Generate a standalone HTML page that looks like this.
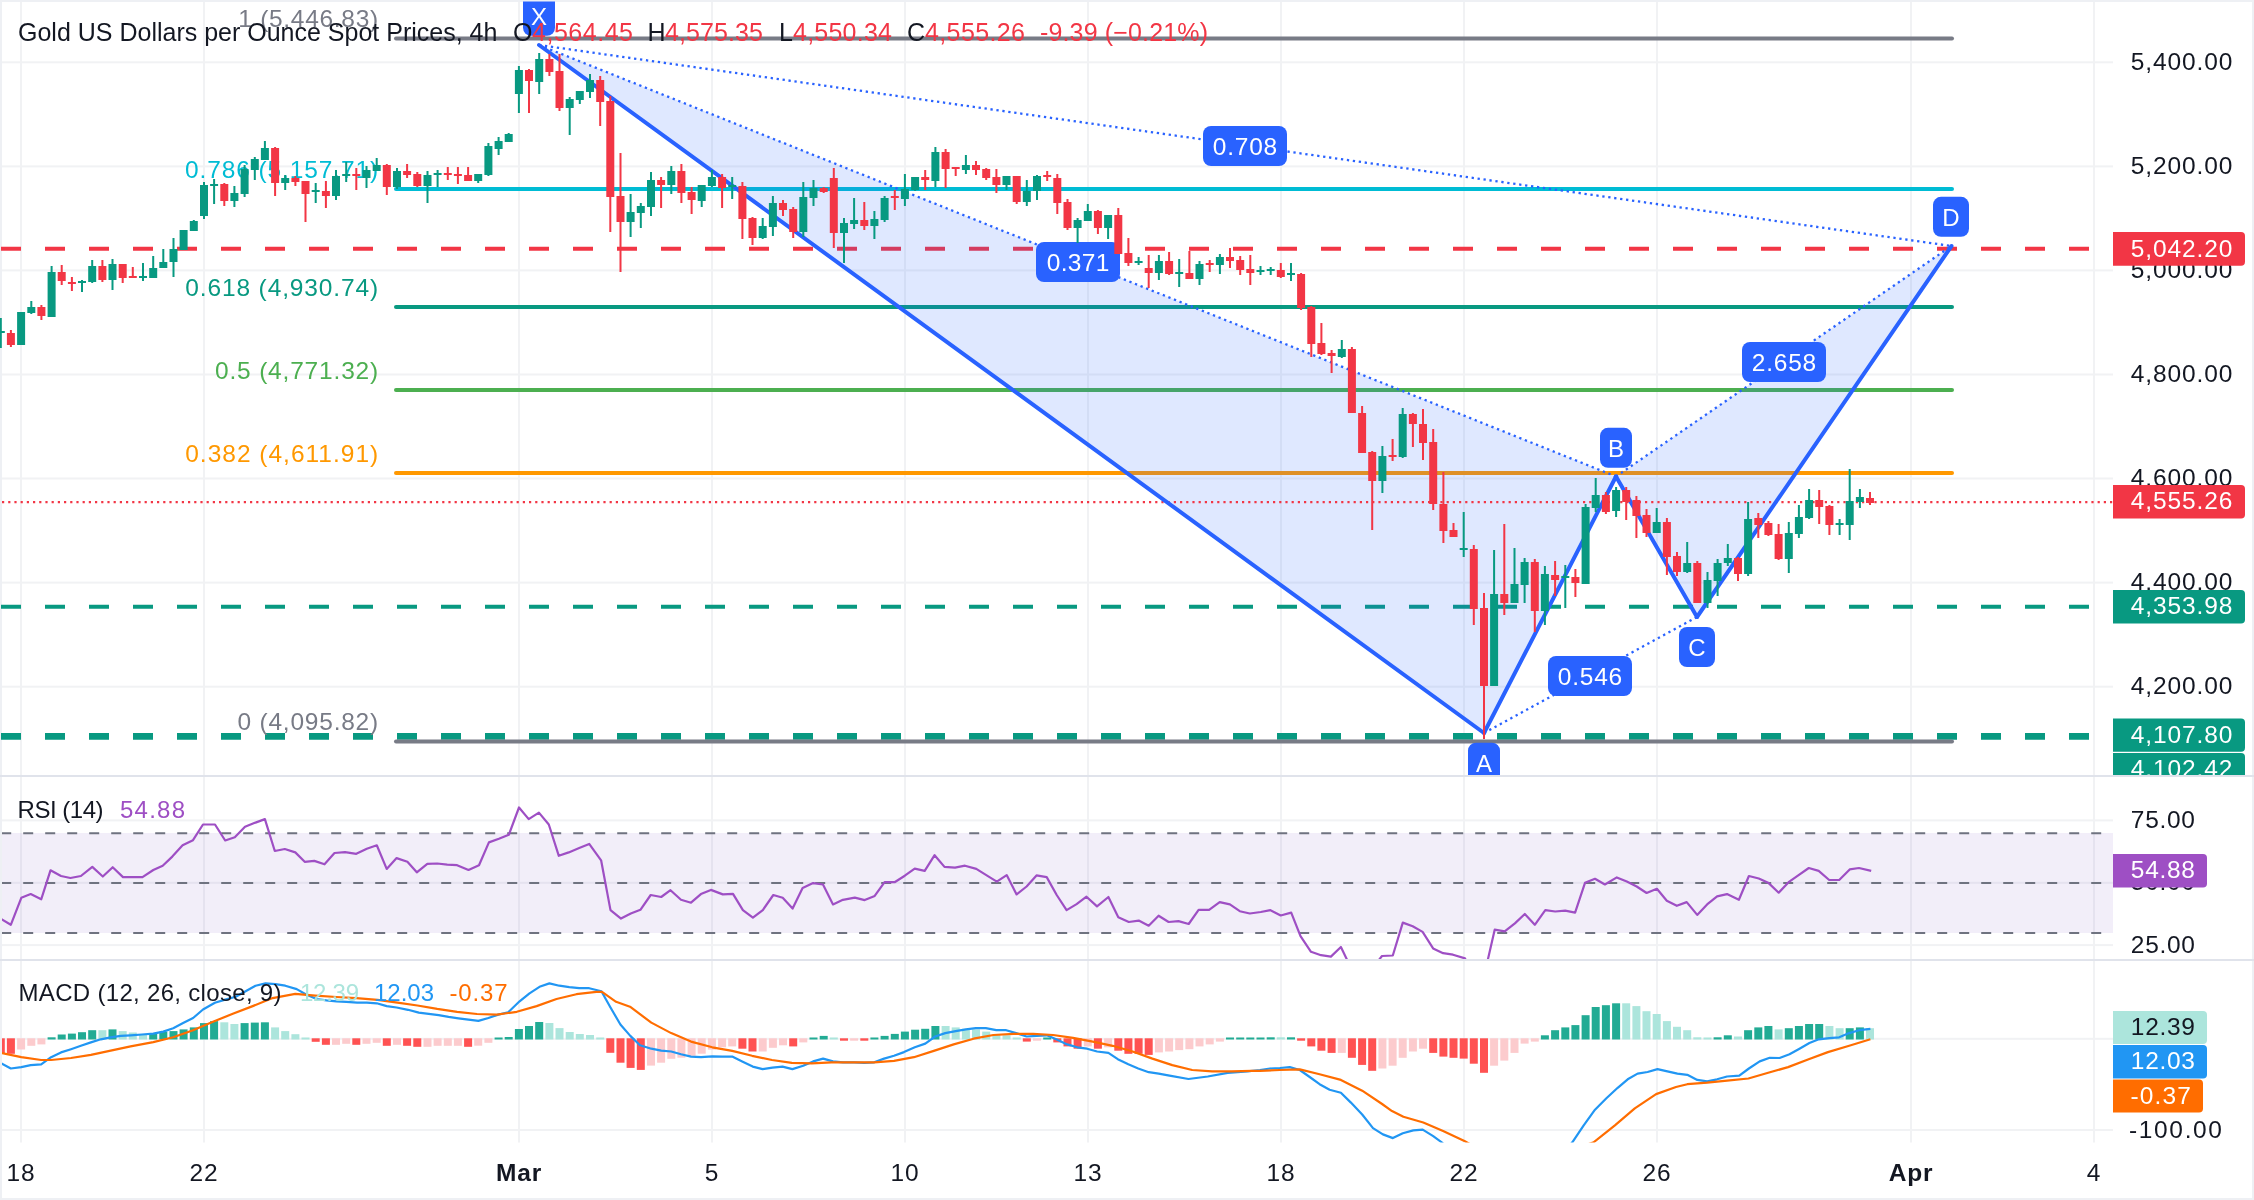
<!DOCTYPE html><html><head><meta charset="utf-8"><style>html,body{margin:0;padding:0;background:#fff;}svg{display:block;will-change:transform;}text{font-family:"Liberation Sans", sans-serif;}</style></head><body>
<svg width="2254" height="1200" viewBox="0 0 2254 1200">
<defs>
<clipPath id="cMain"><rect x="0" y="1.5" width="2113" height="774.5"/></clipPath>
<clipPath id="cRsi"><rect x="2" y="777" width="2111" height="182"/></clipPath>
<clipPath id="cMacd"><rect x="2" y="961" width="2111" height="181.5"/></clipPath>
</defs>
<rect x="0" y="0" width="2254" height="1200" fill="#fff"/>
<rect x="1" y="1" width="2252" height="1198" fill="none" stroke="#eef0f4" stroke-width="2"/>
<rect x="2" y="61.3" width="2111" height="2" fill="#f1f2f4"/>
<rect x="2" y="165.4" width="2111" height="2" fill="#f1f2f4"/>
<rect x="2" y="269.4" width="2111" height="2" fill="#f1f2f4"/>
<rect x="2" y="373.5" width="2111" height="2" fill="#f1f2f4"/>
<rect x="2" y="477.5" width="2111" height="2" fill="#f1f2f4"/>
<rect x="2" y="581.6" width="2111" height="2" fill="#f1f2f4"/>
<rect x="2" y="685.7" width="2111" height="2" fill="#f1f2f4"/>
<rect x="2" y="819.4" width="2111" height="2" fill="#f1f2f4"/>
<rect x="2" y="881.8" width="2111" height="2" fill="#f1f2f4"/>
<rect x="2" y="944.1" width="2111" height="2" fill="#f1f2f4"/>
<rect x="2" y="1037.8" width="2111" height="2" fill="#f1f2f4"/>
<rect x="2" y="1129.0" width="2111" height="2" fill="#f1f2f4"/>
<rect x="20" y="2" width="2" height="1140.5" fill="#f1f2f4"/>
<rect x="203" y="2" width="2" height="1140.5" fill="#f1f2f4"/>
<rect x="518" y="2" width="2" height="1140.5" fill="#f1f2f4"/>
<rect x="711" y="2" width="2" height="1140.5" fill="#f1f2f4"/>
<rect x="904" y="2" width="2" height="1140.5" fill="#f1f2f4"/>
<rect x="1087" y="2" width="2" height="1140.5" fill="#f1f2f4"/>
<rect x="1280" y="2" width="2" height="1140.5" fill="#f1f2f4"/>
<rect x="1463" y="2" width="2" height="1140.5" fill="#f1f2f4"/>
<rect x="1656" y="2" width="2" height="1140.5" fill="#f1f2f4"/>
<rect x="1910" y="2" width="2" height="1140.5" fill="#f1f2f4"/>
<rect x="2093" y="2" width="2" height="1140.5" fill="#f1f2f4"/>
<g clip-path="url(#cMain)">
<line x1="1" y1="248.8" x2="2113" y2="248.8" stroke="#f23645" stroke-width="4" stroke-dasharray="20 24"/>
<line x1="1" y1="606.8" x2="2113" y2="606.8" stroke="#089981" stroke-width="4" stroke-dasharray="20 24"/>
<line x1="1" y1="734.9" x2="2113" y2="734.9" stroke="#089981" stroke-width="4" stroke-dasharray="20 24"/>
<line x1="1" y1="737.7" x2="2113" y2="737.7" stroke="#089981" stroke-width="4" stroke-dasharray="20 24"/>
<line x1="396" y1="38.5" x2="1952" y2="38.5" stroke="#787b86" stroke-width="4" stroke-linecap="round"/>
<text x="238.3" y="27.1" font-size="24.5" fill="#787b86" textLength="139.9" lengthAdjust="spacing">1 (5,446.83)</text>
<line x1="396" y1="189.0" x2="1952" y2="189.0" stroke="#00bcd4" stroke-width="4" stroke-linecap="round"/>
<text x="185" y="177.6" font-size="24.5" fill="#00bcd4" textLength="193.2" lengthAdjust="spacing">0.786 (5,157.71)</text>
<line x1="396" y1="307.1" x2="1952" y2="307.1" stroke="#089981" stroke-width="4" stroke-linecap="round"/>
<text x="185.2" y="295.7" font-size="24.5" fill="#089981" textLength="193.0" lengthAdjust="spacing">0.618 (4,930.74)</text>
<line x1="396" y1="390.0" x2="1952" y2="390.0" stroke="#4caf50" stroke-width="4" stroke-linecap="round"/>
<text x="215" y="378.6" font-size="24.5" fill="#4caf50" textLength="163.2" lengthAdjust="spacing">0.5 (4,771.32)</text>
<line x1="396" y1="472.9" x2="1952" y2="472.9" stroke="#ff9800" stroke-width="4" stroke-linecap="round"/>
<text x="185.2" y="461.5" font-size="24.5" fill="#ff9800" textLength="193.0" lengthAdjust="spacing">0.382 (4,611.91)</text>
<line x1="396" y1="741.5" x2="1952" y2="741.5" stroke="#787b86" stroke-width="4" stroke-linecap="round"/>
<text x="237.5" y="730.1" font-size="24.5" fill="#787b86" textLength="140.7" lengthAdjust="spacing">0 (4,095.82)</text>
<polygon points="539,45 1484,733 1616,476.5" fill="#2962ff" fill-opacity="0.15"/>
<polygon points="1616,476.5 1697,617 1951.5,246" fill="#2962ff" fill-opacity="0.15"/>
<line x1="2" y1="502.1" x2="2113" y2="502.1" stroke="#f23645" stroke-width="2.2" stroke-dasharray="2.2 4"/>
<line x1="539" y1="45" x2="1484" y2="733" stroke="#2962ff" stroke-width="4" stroke-linecap="round"/>
<line x1="1484" y1="733" x2="1616" y2="476.5" stroke="#2962ff" stroke-width="4" stroke-linecap="round"/>
<line x1="1616" y1="476.5" x2="1697" y2="617" stroke="#2962ff" stroke-width="4" stroke-linecap="round"/>
<line x1="1697" y1="617" x2="1951.5" y2="246" stroke="#2962ff" stroke-width="4" stroke-linecap="round"/>
<line x1="539" y1="45" x2="1616" y2="476.5" stroke="#2962ff" stroke-width="2.3" stroke-dasharray="2.3 3.7"/>
<line x1="539" y1="45" x2="1951.5" y2="246" stroke="#2962ff" stroke-width="2.3" stroke-dasharray="2.3 3.7"/>
<line x1="1484" y1="733" x2="1697" y2="617" stroke="#2962ff" stroke-width="2.3" stroke-dasharray="2.3 3.7"/>
<line x1="1616" y1="476.5" x2="1951.5" y2="246" stroke="#2962ff" stroke-width="2.3" stroke-dasharray="2.3 3.7"/>
<rect x="523.0" y="-10.0" width="32" height="45.8" rx="8" fill="#2962ff"/>
<text x="539.0" y="24.8" font-size="24" fill="#fff" text-anchor="middle">X</text>
<rect x="1600.0" y="427.8" width="32" height="40" rx="8" fill="#2962ff"/>
<text x="1616.0" y="456.6" font-size="24" fill="#fff" text-anchor="middle">B</text>
<rect x="1679.0" y="627.0" width="36" height="40" rx="8" fill="#2962ff"/>
<text x="1697.0" y="655.8" font-size="24" fill="#fff" text-anchor="middle">C</text>
<rect x="1933.0" y="196.8" width="36" height="40" rx="8" fill="#2962ff"/>
<text x="1951.0" y="225.6" font-size="24" fill="#fff" text-anchor="middle">D</text>
<rect x="1468.0" y="742.7" width="32" height="40" rx="8" fill="#2962ff"/>
<text x="1484.0" y="771.5" font-size="24" fill="#fff" text-anchor="middle">A</text>
<rect x="1203.0" y="126.0" width="84" height="40" rx="8" fill="#2962ff"/>
<text x="1212.8" y="154.8" font-size="24.5" fill="#fff" textLength="64.4" lengthAdjust="spacing">0.708</text>
<rect x="1036.0" y="242.0" width="84" height="40" rx="8" fill="#2962ff"/>
<text x="1046.7" y="270.8" font-size="24.5" fill="#fff" textLength="62.6" lengthAdjust="spacing">0.371</text>
<rect x="1742.0" y="342.0" width="84" height="40" rx="8" fill="#2962ff"/>
<text x="1751.8" y="370.8" font-size="24.5" fill="#fff" textLength="64.4" lengthAdjust="spacing">2.658</text>
<rect x="1548.0" y="656.0" width="84" height="40" rx="8" fill="#2962ff"/>
<text x="1557.8" y="684.8" font-size="24.5" fill="#fff" textLength="64.4" lengthAdjust="spacing">0.546</text>
<rect x="-0.2" y="318.0" width="2" height="30.0" fill="#089981"/>
<rect x="-3.2" y="331.0" width="8" height="2.0" fill="#089981"/>
<rect x="9.9" y="330.0" width="2" height="17.0" fill="#f23645"/>
<rect x="6.9" y="333.0" width="8" height="12.0" fill="#f23645"/>
<rect x="20.1" y="312.0" width="2" height="33.0" fill="#089981"/>
<rect x="17.1" y="312.0" width="8" height="33.0" fill="#089981"/>
<rect x="30.3" y="301.0" width="2" height="13.0" fill="#089981"/>
<rect x="27.3" y="307.0" width="8" height="6.0" fill="#089981"/>
<rect x="40.4" y="305.0" width="2" height="15.0" fill="#f23645"/>
<rect x="37.4" y="307.0" width="8" height="9.0" fill="#f23645"/>
<rect x="50.6" y="266.0" width="2" height="51.0" fill="#089981"/>
<rect x="47.6" y="272.0" width="8" height="45.0" fill="#089981"/>
<rect x="60.7" y="265.0" width="2" height="20.0" fill="#f23645"/>
<rect x="57.7" y="272.0" width="8" height="9.0" fill="#f23645"/>
<rect x="70.9" y="277.0" width="2" height="14.0" fill="#f23645"/>
<rect x="67.9" y="282.0" width="8" height="2.0" fill="#f23645"/>
<rect x="81.0" y="280.0" width="2" height="12.0" fill="#089981"/>
<rect x="78.0" y="281.0" width="8" height="2.0" fill="#089981"/>
<rect x="91.2" y="260.0" width="2" height="23.0" fill="#089981"/>
<rect x="88.2" y="266.0" width="8" height="16.0" fill="#089981"/>
<rect x="101.4" y="260.0" width="2" height="22.0" fill="#f23645"/>
<rect x="98.4" y="266.0" width="8" height="14.0" fill="#f23645"/>
<rect x="111.5" y="259.0" width="2" height="31.0" fill="#089981"/>
<rect x="108.5" y="264.0" width="8" height="16.0" fill="#089981"/>
<rect x="121.7" y="264.0" width="2" height="19.0" fill="#f23645"/>
<rect x="118.7" y="264.0" width="8" height="14.0" fill="#f23645"/>
<rect x="131.8" y="267.0" width="2" height="11.0" fill="#f23645"/>
<rect x="128.8" y="276.0" width="8" height="2.0" fill="#f23645"/>
<rect x="142.0" y="263.0" width="2" height="18.0" fill="#089981"/>
<rect x="139.0" y="276.0" width="8" height="2.0" fill="#089981"/>
<rect x="152.2" y="256.0" width="2" height="22.0" fill="#089981"/>
<rect x="149.2" y="268.0" width="8" height="10.0" fill="#089981"/>
<rect x="162.3" y="249.0" width="2" height="19.0" fill="#089981"/>
<rect x="159.3" y="262.0" width="8" height="6.0" fill="#089981"/>
<rect x="172.5" y="238.0" width="2" height="39.0" fill="#089981"/>
<rect x="169.5" y="249.0" width="8" height="13.0" fill="#089981"/>
<rect x="182.6" y="230.0" width="2" height="20.0" fill="#089981"/>
<rect x="179.6" y="230.0" width="8" height="20.0" fill="#089981"/>
<rect x="192.8" y="220.0" width="2" height="11.0" fill="#089981"/>
<rect x="189.8" y="221.0" width="8" height="10.0" fill="#089981"/>
<rect x="203.0" y="182.0" width="2" height="37.0" fill="#089981"/>
<rect x="200.0" y="185.0" width="8" height="31.0" fill="#089981"/>
<rect x="213.1" y="179.0" width="2" height="25.0" fill="#089981"/>
<rect x="210.1" y="184.0" width="8" height="2.0" fill="#089981"/>
<rect x="223.3" y="183.0" width="2" height="23.0" fill="#f23645"/>
<rect x="220.3" y="184.0" width="8" height="17.0" fill="#f23645"/>
<rect x="233.4" y="186.0" width="2" height="21.0" fill="#089981"/>
<rect x="230.4" y="193.0" width="8" height="8.0" fill="#089981"/>
<rect x="243.6" y="165.0" width="2" height="32.0" fill="#089981"/>
<rect x="240.6" y="169.0" width="8" height="25.0" fill="#089981"/>
<rect x="253.8" y="157.0" width="2" height="23.0" fill="#089981"/>
<rect x="250.8" y="159.0" width="8" height="11.0" fill="#089981"/>
<rect x="263.9" y="141.0" width="2" height="19.0" fill="#089981"/>
<rect x="260.9" y="148.0" width="8" height="12.0" fill="#089981"/>
<rect x="274.1" y="147.0" width="2" height="49.0" fill="#f23645"/>
<rect x="271.1" y="148.0" width="8" height="35.0" fill="#f23645"/>
<rect x="284.2" y="175.0" width="2" height="15.0" fill="#089981"/>
<rect x="281.2" y="178.0" width="8" height="5.0" fill="#089981"/>
<rect x="294.4" y="176.0" width="2" height="10.0" fill="#f23645"/>
<rect x="291.4" y="178.0" width="8" height="4.0" fill="#f23645"/>
<rect x="304.5" y="181.0" width="2" height="41.0" fill="#f23645"/>
<rect x="301.5" y="181.0" width="8" height="13.0" fill="#f23645"/>
<rect x="314.7" y="183.0" width="2" height="20.0" fill="#089981"/>
<rect x="311.7" y="190.0" width="8" height="2.0" fill="#089981"/>
<rect x="324.9" y="181.0" width="2" height="27.0" fill="#f23645"/>
<rect x="321.9" y="191.0" width="8" height="5.0" fill="#f23645"/>
<rect x="335.0" y="170.0" width="2" height="30.0" fill="#089981"/>
<rect x="332.0" y="176.0" width="8" height="20.0" fill="#089981"/>
<rect x="345.2" y="162.0" width="2" height="20.0" fill="#089981"/>
<rect x="342.2" y="174.0" width="8" height="2.0" fill="#089981"/>
<rect x="355.3" y="168.0" width="2" height="22.0" fill="#f23645"/>
<rect x="352.3" y="174.0" width="8" height="2.0" fill="#f23645"/>
<rect x="365.5" y="166.0" width="2" height="22.0" fill="#089981"/>
<rect x="362.5" y="170.0" width="8" height="8.0" fill="#089981"/>
<rect x="375.7" y="158.0" width="2" height="13.0" fill="#089981"/>
<rect x="372.7" y="165.0" width="8" height="6.0" fill="#089981"/>
<rect x="385.8" y="164.0" width="2" height="31.0" fill="#f23645"/>
<rect x="382.8" y="165.0" width="8" height="22.0" fill="#f23645"/>
<rect x="396.0" y="168.0" width="2" height="21.0" fill="#089981"/>
<rect x="393.0" y="171.0" width="8" height="16.0" fill="#089981"/>
<rect x="406.1" y="164.0" width="2" height="14.0" fill="#f23645"/>
<rect x="403.1" y="171.0" width="8" height="4.0" fill="#f23645"/>
<rect x="416.3" y="172.0" width="2" height="15.0" fill="#f23645"/>
<rect x="413.3" y="174.0" width="8" height="12.0" fill="#f23645"/>
<rect x="426.5" y="171.0" width="2" height="32.0" fill="#089981"/>
<rect x="423.5" y="175.0" width="8" height="11.0" fill="#089981"/>
<rect x="436.6" y="170.0" width="2" height="17.0" fill="#089981"/>
<rect x="433.6" y="173.0" width="8" height="2.0" fill="#089981"/>
<rect x="446.8" y="167.0" width="2" height="13.0" fill="#f23645"/>
<rect x="443.8" y="173.0" width="8" height="2.0" fill="#f23645"/>
<rect x="456.9" y="167.0" width="2" height="17.0" fill="#f23645"/>
<rect x="453.9" y="174.0" width="8" height="2.0" fill="#f23645"/>
<rect x="467.1" y="167.0" width="2" height="14.0" fill="#f23645"/>
<rect x="464.1" y="175.0" width="8" height="6.0" fill="#f23645"/>
<rect x="477.2" y="174.0" width="2" height="9.0" fill="#089981"/>
<rect x="474.2" y="174.0" width="8" height="7.0" fill="#089981"/>
<rect x="487.4" y="143.0" width="2" height="33.0" fill="#089981"/>
<rect x="484.4" y="146.0" width="8" height="29.0" fill="#089981"/>
<rect x="497.6" y="137.0" width="2" height="18.0" fill="#089981"/>
<rect x="494.6" y="141.0" width="8" height="8.0" fill="#089981"/>
<rect x="507.7" y="133.0" width="2" height="9.0" fill="#089981"/>
<rect x="504.7" y="134.0" width="8" height="8.0" fill="#089981"/>
<rect x="517.9" y="66.0" width="2" height="47.0" fill="#089981"/>
<rect x="514.9" y="70.0" width="8" height="24.0" fill="#089981"/>
<rect x="528.0" y="69.0" width="2" height="44.0" fill="#f23645"/>
<rect x="525.0" y="70.0" width="8" height="11.0" fill="#f23645"/>
<rect x="538.2" y="53.0" width="2" height="41.0" fill="#089981"/>
<rect x="535.2" y="59.0" width="8" height="23.0" fill="#089981"/>
<rect x="548.4" y="54.0" width="2" height="22.0" fill="#f23645"/>
<rect x="545.4" y="59.0" width="8" height="13.0" fill="#f23645"/>
<rect x="558.5" y="54.0" width="2" height="57.0" fill="#f23645"/>
<rect x="555.5" y="71.0" width="8" height="37.0" fill="#f23645"/>
<rect x="568.7" y="97.0" width="2" height="38.0" fill="#089981"/>
<rect x="565.7" y="99.0" width="8" height="9.0" fill="#089981"/>
<rect x="578.8" y="91.0" width="2" height="13.0" fill="#089981"/>
<rect x="575.8" y="91.0" width="8" height="9.0" fill="#089981"/>
<rect x="589.0" y="74.0" width="2" height="24.0" fill="#089981"/>
<rect x="586.0" y="80.0" width="8" height="12.0" fill="#089981"/>
<rect x="599.2" y="76.0" width="2" height="50.0" fill="#f23645"/>
<rect x="596.2" y="80.0" width="8" height="22.0" fill="#f23645"/>
<rect x="609.3" y="96.0" width="2" height="136.0" fill="#f23645"/>
<rect x="606.3" y="101.0" width="8" height="96.0" fill="#f23645"/>
<rect x="619.5" y="153.0" width="2" height="119.0" fill="#f23645"/>
<rect x="616.5" y="196.0" width="8" height="26.0" fill="#f23645"/>
<rect x="629.6" y="194.0" width="2" height="43.0" fill="#089981"/>
<rect x="626.6" y="212.0" width="8" height="10.0" fill="#089981"/>
<rect x="639.8" y="203.0" width="2" height="25.0" fill="#089981"/>
<rect x="636.8" y="206.0" width="8" height="7.0" fill="#089981"/>
<rect x="650.0" y="172.0" width="2" height="44.0" fill="#089981"/>
<rect x="647.0" y="180.0" width="8" height="27.0" fill="#089981"/>
<rect x="660.1" y="177.0" width="2" height="31.0" fill="#f23645"/>
<rect x="657.1" y="180.0" width="8" height="5.0" fill="#f23645"/>
<rect x="670.3" y="166.0" width="2" height="28.0" fill="#089981"/>
<rect x="667.3" y="171.0" width="8" height="14.0" fill="#089981"/>
<rect x="680.4" y="164.0" width="2" height="39.0" fill="#f23645"/>
<rect x="677.4" y="171.0" width="8" height="22.0" fill="#f23645"/>
<rect x="690.6" y="187.0" width="2" height="27.0" fill="#f23645"/>
<rect x="687.6" y="192.0" width="8" height="8.0" fill="#f23645"/>
<rect x="700.7" y="185.0" width="2" height="22.0" fill="#089981"/>
<rect x="697.7" y="185.0" width="8" height="16.0" fill="#089981"/>
<rect x="710.9" y="170.0" width="2" height="17.0" fill="#089981"/>
<rect x="707.9" y="177.0" width="8" height="9.0" fill="#089981"/>
<rect x="721.1" y="174.0" width="2" height="34.0" fill="#f23645"/>
<rect x="718.1" y="177.0" width="8" height="11.0" fill="#f23645"/>
<rect x="731.2" y="177.0" width="2" height="22.0" fill="#089981"/>
<rect x="728.2" y="185.0" width="8" height="2.0" fill="#089981"/>
<rect x="741.4" y="182.0" width="2" height="57.0" fill="#f23645"/>
<rect x="738.4" y="186.0" width="8" height="33.0" fill="#f23645"/>
<rect x="751.5" y="217.0" width="2" height="28.0" fill="#f23645"/>
<rect x="748.5" y="218.0" width="8" height="20.0" fill="#f23645"/>
<rect x="761.7" y="218.0" width="2" height="21.0" fill="#089981"/>
<rect x="758.7" y="226.0" width="8" height="12.0" fill="#089981"/>
<rect x="771.9" y="196.0" width="2" height="40.0" fill="#089981"/>
<rect x="768.9" y="203.0" width="8" height="24.0" fill="#089981"/>
<rect x="782.0" y="200.0" width="2" height="16.0" fill="#f23645"/>
<rect x="779.0" y="203.0" width="8" height="7.0" fill="#f23645"/>
<rect x="792.2" y="207.0" width="2" height="31.0" fill="#f23645"/>
<rect x="789.2" y="209.0" width="8" height="23.0" fill="#f23645"/>
<rect x="802.3" y="182.0" width="2" height="55.0" fill="#089981"/>
<rect x="799.3" y="197.0" width="8" height="35.0" fill="#089981"/>
<rect x="812.5" y="180.0" width="2" height="26.0" fill="#089981"/>
<rect x="809.5" y="188.0" width="8" height="10.0" fill="#089981"/>
<rect x="822.7" y="187.0" width="2" height="6.0" fill="#f23645"/>
<rect x="819.7" y="188.0" width="8" height="4.0" fill="#f23645"/>
<rect x="832.8" y="168.0" width="2" height="80.0" fill="#f23645"/>
<rect x="829.8" y="178.0" width="8" height="55.0" fill="#f23645"/>
<rect x="843.0" y="218.0" width="2" height="45.0" fill="#089981"/>
<rect x="840.0" y="223.0" width="8" height="10.0" fill="#089981"/>
<rect x="853.1" y="198.0" width="2" height="31.0" fill="#089981"/>
<rect x="850.1" y="220.0" width="8" height="4.0" fill="#089981"/>
<rect x="863.3" y="202.0" width="2" height="28.0" fill="#f23645"/>
<rect x="860.3" y="220.0" width="8" height="6.0" fill="#f23645"/>
<rect x="873.4" y="211.0" width="2" height="28.0" fill="#089981"/>
<rect x="870.4" y="219.0" width="8" height="7.0" fill="#089981"/>
<rect x="883.6" y="196.0" width="2" height="26.0" fill="#089981"/>
<rect x="880.6" y="198.0" width="8" height="22.0" fill="#089981"/>
<rect x="893.8" y="190.0" width="2" height="20.0" fill="#f23645"/>
<rect x="890.8" y="196.0" width="8" height="2.0" fill="#f23645"/>
<rect x="903.9" y="174.0" width="2" height="32.0" fill="#089981"/>
<rect x="900.9" y="189.0" width="8" height="10.0" fill="#089981"/>
<rect x="914.1" y="177.0" width="2" height="14.0" fill="#089981"/>
<rect x="911.1" y="177.0" width="8" height="13.0" fill="#089981"/>
<rect x="924.2" y="170.0" width="2" height="20.0" fill="#f23645"/>
<rect x="921.2" y="177.0" width="8" height="3.0" fill="#f23645"/>
<rect x="934.4" y="147.0" width="2" height="40.0" fill="#089981"/>
<rect x="931.4" y="152.0" width="8" height="29.0" fill="#089981"/>
<rect x="944.6" y="149.0" width="2" height="39.0" fill="#f23645"/>
<rect x="941.6" y="152.0" width="8" height="17.0" fill="#f23645"/>
<rect x="954.7" y="167.0" width="2" height="9.0" fill="#f23645"/>
<rect x="951.7" y="167.0" width="8" height="2.0" fill="#f23645"/>
<rect x="964.9" y="155.0" width="2" height="19.0" fill="#089981"/>
<rect x="961.9" y="165.0" width="8" height="5.0" fill="#089981"/>
<rect x="975.0" y="161.0" width="2" height="14.0" fill="#f23645"/>
<rect x="972.0" y="165.0" width="8" height="5.0" fill="#f23645"/>
<rect x="985.2" y="168.0" width="2" height="12.0" fill="#f23645"/>
<rect x="982.2" y="169.0" width="8" height="9.0" fill="#f23645"/>
<rect x="995.4" y="169.0" width="2" height="24.0" fill="#f23645"/>
<rect x="992.4" y="177.0" width="8" height="8.0" fill="#f23645"/>
<rect x="1005.5" y="176.0" width="2" height="14.0" fill="#089981"/>
<rect x="1002.5" y="176.0" width="8" height="9.0" fill="#089981"/>
<rect x="1015.7" y="176.0" width="2" height="28.0" fill="#f23645"/>
<rect x="1012.7" y="176.0" width="8" height="26.0" fill="#f23645"/>
<rect x="1025.8" y="180.0" width="2" height="26.0" fill="#089981"/>
<rect x="1022.8" y="191.0" width="8" height="11.0" fill="#089981"/>
<rect x="1036.0" y="175.0" width="2" height="25.0" fill="#089981"/>
<rect x="1033.0" y="176.0" width="8" height="15.0" fill="#089981"/>
<rect x="1046.2" y="171.0" width="2" height="10.0" fill="#f23645"/>
<rect x="1043.2" y="175.0" width="8" height="2.0" fill="#f23645"/>
<rect x="1056.3" y="174.0" width="2" height="40.0" fill="#f23645"/>
<rect x="1053.3" y="178.0" width="8" height="25.0" fill="#f23645"/>
<rect x="1066.5" y="199.0" width="2" height="31.0" fill="#f23645"/>
<rect x="1063.5" y="202.0" width="8" height="26.0" fill="#f23645"/>
<rect x="1076.6" y="218.0" width="2" height="25.0" fill="#089981"/>
<rect x="1073.6" y="220.0" width="8" height="8.0" fill="#089981"/>
<rect x="1086.8" y="204.0" width="2" height="17.0" fill="#089981"/>
<rect x="1083.8" y="211.0" width="8" height="10.0" fill="#089981"/>
<rect x="1096.9" y="210.0" width="2" height="24.0" fill="#f23645"/>
<rect x="1093.9" y="211.0" width="8" height="17.0" fill="#f23645"/>
<rect x="1107.1" y="215.0" width="2" height="24.0" fill="#089981"/>
<rect x="1104.1" y="215.0" width="8" height="13.0" fill="#089981"/>
<rect x="1117.3" y="208.0" width="2" height="46.0" fill="#f23645"/>
<rect x="1114.3" y="215.0" width="8" height="39.0" fill="#f23645"/>
<rect x="1127.4" y="238.0" width="2" height="28.0" fill="#f23645"/>
<rect x="1124.4" y="253.0" width="8" height="10.0" fill="#f23645"/>
<rect x="1137.6" y="257.0" width="2" height="8.0" fill="#089981"/>
<rect x="1134.6" y="261.0" width="8" height="2.0" fill="#089981"/>
<rect x="1147.7" y="255.0" width="2" height="33.0" fill="#f23645"/>
<rect x="1144.7" y="268.0" width="8" height="5.0" fill="#f23645"/>
<rect x="1157.9" y="255.0" width="2" height="25.0" fill="#089981"/>
<rect x="1154.9" y="261.0" width="8" height="12.0" fill="#089981"/>
<rect x="1168.1" y="252.0" width="2" height="23.0" fill="#f23645"/>
<rect x="1165.1" y="261.0" width="8" height="13.0" fill="#f23645"/>
<rect x="1178.2" y="259.0" width="2" height="28.0" fill="#089981"/>
<rect x="1175.2" y="272.0" width="8" height="2.0" fill="#089981"/>
<rect x="1188.4" y="251.0" width="2" height="28.0" fill="#f23645"/>
<rect x="1185.4" y="273.0" width="8" height="6.0" fill="#f23645"/>
<rect x="1198.5" y="261.0" width="2" height="24.0" fill="#089981"/>
<rect x="1195.5" y="264.0" width="8" height="15.0" fill="#089981"/>
<rect x="1208.7" y="260.0" width="2" height="12.0" fill="#f23645"/>
<rect x="1205.7" y="263.0" width="8" height="2.0" fill="#f23645"/>
<rect x="1218.9" y="254.0" width="2" height="20.0" fill="#089981"/>
<rect x="1215.9" y="257.0" width="8" height="8.0" fill="#089981"/>
<rect x="1229.0" y="248.0" width="2" height="20.0" fill="#f23645"/>
<rect x="1226.0" y="257.0" width="8" height="4.0" fill="#f23645"/>
<rect x="1239.2" y="256.0" width="2" height="19.0" fill="#f23645"/>
<rect x="1236.2" y="260.0" width="8" height="10.0" fill="#f23645"/>
<rect x="1249.3" y="255.0" width="2" height="30.0" fill="#f23645"/>
<rect x="1246.3" y="269.0" width="8" height="4.0" fill="#f23645"/>
<rect x="1259.5" y="266.0" width="2" height="9.0" fill="#089981"/>
<rect x="1256.5" y="270.0" width="8" height="2.0" fill="#089981"/>
<rect x="1269.7" y="267.0" width="2" height="8.0" fill="#089981"/>
<rect x="1266.7" y="269.0" width="8" height="2.0" fill="#089981"/>
<rect x="1279.8" y="263.0" width="2" height="15.0" fill="#f23645"/>
<rect x="1276.8" y="270.0" width="8" height="7.0" fill="#f23645"/>
<rect x="1290.0" y="263.0" width="2" height="18.0" fill="#089981"/>
<rect x="1287.0" y="273.0" width="8" height="2.0" fill="#089981"/>
<rect x="1300.1" y="273.0" width="2" height="37.0" fill="#f23645"/>
<rect x="1297.1" y="274.0" width="8" height="34.0" fill="#f23645"/>
<rect x="1310.3" y="306.0" width="2" height="51.0" fill="#f23645"/>
<rect x="1307.3" y="307.0" width="8" height="37.0" fill="#f23645"/>
<rect x="1320.4" y="323.0" width="2" height="32.0" fill="#f23645"/>
<rect x="1317.4" y="343.0" width="8" height="11.0" fill="#f23645"/>
<rect x="1330.6" y="350.0" width="2" height="23.0" fill="#f23645"/>
<rect x="1327.6" y="353.0" width="8" height="3.0" fill="#f23645"/>
<rect x="1340.8" y="340.0" width="2" height="18.0" fill="#089981"/>
<rect x="1337.8" y="349.0" width="8" height="8.0" fill="#089981"/>
<rect x="1350.9" y="347.0" width="2" height="66.0" fill="#f23645"/>
<rect x="1347.9" y="349.0" width="8" height="64.0" fill="#f23645"/>
<rect x="1361.1" y="406.0" width="2" height="47.0" fill="#f23645"/>
<rect x="1358.1" y="413.0" width="8" height="40.0" fill="#f23645"/>
<rect x="1371.2" y="451.0" width="2" height="79.0" fill="#f23645"/>
<rect x="1368.2" y="452.0" width="8" height="29.0" fill="#f23645"/>
<rect x="1381.4" y="446.0" width="2" height="47.0" fill="#089981"/>
<rect x="1378.4" y="456.0" width="8" height="25.0" fill="#089981"/>
<rect x="1391.6" y="439.0" width="2" height="22.0" fill="#f23645"/>
<rect x="1388.6" y="455.0" width="8" height="2.0" fill="#f23645"/>
<rect x="1401.7" y="408.0" width="2" height="50.0" fill="#089981"/>
<rect x="1398.7" y="414.0" width="8" height="43.0" fill="#089981"/>
<rect x="1411.9" y="413.0" width="2" height="34.0" fill="#f23645"/>
<rect x="1408.9" y="414.0" width="8" height="10.0" fill="#f23645"/>
<rect x="1422.0" y="409.0" width="2" height="51.0" fill="#f23645"/>
<rect x="1419.0" y="424.0" width="8" height="19.0" fill="#f23645"/>
<rect x="1432.2" y="429.0" width="2" height="81.0" fill="#f23645"/>
<rect x="1429.2" y="442.0" width="8" height="62.0" fill="#f23645"/>
<rect x="1442.4" y="472.0" width="2" height="71.0" fill="#f23645"/>
<rect x="1439.4" y="504.0" width="8" height="27.0" fill="#f23645"/>
<rect x="1452.5" y="523.0" width="2" height="14.0" fill="#f23645"/>
<rect x="1449.5" y="530.0" width="8" height="7.0" fill="#f23645"/>
<rect x="1462.7" y="512.0" width="2" height="45.0" fill="#089981"/>
<rect x="1459.7" y="548.0" width="8" height="2.0" fill="#089981"/>
<rect x="1472.8" y="545.0" width="2" height="80.0" fill="#f23645"/>
<rect x="1469.8" y="549.0" width="8" height="60.0" fill="#f23645"/>
<rect x="1483.0" y="593.0" width="2" height="146.0" fill="#f23645"/>
<rect x="1480.0" y="608.0" width="8" height="78.0" fill="#f23645"/>
<rect x="1493.1" y="550.0" width="2" height="136.0" fill="#089981"/>
<rect x="1490.1" y="594.0" width="8" height="92.0" fill="#089981"/>
<rect x="1503.3" y="524.0" width="2" height="91.0" fill="#f23645"/>
<rect x="1500.3" y="594.0" width="8" height="9.0" fill="#f23645"/>
<rect x="1513.5" y="548.0" width="2" height="55.0" fill="#089981"/>
<rect x="1510.5" y="584.0" width="8" height="19.0" fill="#089981"/>
<rect x="1523.6" y="558.0" width="2" height="45.0" fill="#089981"/>
<rect x="1520.6" y="562.0" width="8" height="23.0" fill="#089981"/>
<rect x="1533.8" y="559.0" width="2" height="73.0" fill="#f23645"/>
<rect x="1530.8" y="562.0" width="8" height="49.0" fill="#f23645"/>
<rect x="1543.9" y="566.0" width="2" height="59.0" fill="#089981"/>
<rect x="1540.9" y="574.0" width="8" height="37.0" fill="#089981"/>
<rect x="1554.1" y="561.0" width="2" height="35.0" fill="#f23645"/>
<rect x="1551.1" y="575.0" width="8" height="5.0" fill="#f23645"/>
<rect x="1564.3" y="565.0" width="2" height="43.0" fill="#089981"/>
<rect x="1561.3" y="576.0" width="8" height="2.0" fill="#089981"/>
<rect x="1574.4" y="569.0" width="2" height="28.0" fill="#f23645"/>
<rect x="1571.4" y="577.0" width="8" height="6.0" fill="#f23645"/>
<rect x="1584.6" y="504.0" width="2" height="80.0" fill="#089981"/>
<rect x="1581.6" y="507.0" width="8" height="77.0" fill="#089981"/>
<rect x="1594.7" y="478.0" width="2" height="34.0" fill="#089981"/>
<rect x="1591.7" y="495.0" width="8" height="13.0" fill="#089981"/>
<rect x="1604.9" y="492.0" width="2" height="22.0" fill="#f23645"/>
<rect x="1601.9" y="495.0" width="8" height="17.0" fill="#f23645"/>
<rect x="1615.1" y="487.0" width="2" height="30.0" fill="#089981"/>
<rect x="1612.1" y="490.0" width="8" height="21.0" fill="#089981"/>
<rect x="1625.2" y="487.0" width="2" height="33.0" fill="#f23645"/>
<rect x="1622.2" y="490.0" width="8" height="12.0" fill="#f23645"/>
<rect x="1635.4" y="496.0" width="2" height="42.0" fill="#f23645"/>
<rect x="1632.4" y="500.0" width="8" height="16.0" fill="#f23645"/>
<rect x="1645.5" y="509.0" width="2" height="28.0" fill="#f23645"/>
<rect x="1642.5" y="515.0" width="8" height="18.0" fill="#f23645"/>
<rect x="1655.7" y="508.0" width="2" height="25.0" fill="#089981"/>
<rect x="1652.7" y="522.0" width="8" height="11.0" fill="#089981"/>
<rect x="1665.9" y="518.0" width="2" height="57.0" fill="#f23645"/>
<rect x="1662.9" y="522.0" width="8" height="35.0" fill="#f23645"/>
<rect x="1676.0" y="552.0" width="2" height="24.0" fill="#f23645"/>
<rect x="1673.0" y="556.0" width="8" height="16.0" fill="#f23645"/>
<rect x="1686.2" y="542.0" width="2" height="31.0" fill="#089981"/>
<rect x="1683.2" y="563.0" width="8" height="9.0" fill="#089981"/>
<rect x="1696.3" y="561.0" width="2" height="42.0" fill="#f23645"/>
<rect x="1693.3" y="563.0" width="8" height="40.0" fill="#f23645"/>
<rect x="1706.5" y="572.0" width="2" height="36.0" fill="#089981"/>
<rect x="1703.5" y="580.0" width="8" height="23.0" fill="#089981"/>
<rect x="1716.6" y="559.0" width="2" height="37.0" fill="#089981"/>
<rect x="1713.6" y="563.0" width="8" height="18.0" fill="#089981"/>
<rect x="1726.8" y="544.0" width="2" height="22.0" fill="#089981"/>
<rect x="1723.8" y="558.0" width="8" height="5.0" fill="#089981"/>
<rect x="1737.0" y="557.0" width="2" height="24.0" fill="#f23645"/>
<rect x="1734.0" y="558.0" width="8" height="16.0" fill="#f23645"/>
<rect x="1747.1" y="502.0" width="2" height="74.0" fill="#089981"/>
<rect x="1744.1" y="519.0" width="8" height="55.0" fill="#089981"/>
<rect x="1757.3" y="513.0" width="2" height="25.0" fill="#f23645"/>
<rect x="1754.3" y="518.0" width="8" height="7.0" fill="#f23645"/>
<rect x="1767.4" y="521.0" width="2" height="15.0" fill="#f23645"/>
<rect x="1764.4" y="523.0" width="8" height="12.0" fill="#f23645"/>
<rect x="1777.6" y="524.0" width="2" height="36.0" fill="#f23645"/>
<rect x="1774.6" y="534.0" width="8" height="25.0" fill="#f23645"/>
<rect x="1787.8" y="522.0" width="2" height="51.0" fill="#089981"/>
<rect x="1784.8" y="533.0" width="8" height="26.0" fill="#089981"/>
<rect x="1797.9" y="505.0" width="2" height="33.0" fill="#089981"/>
<rect x="1794.9" y="517.0" width="8" height="17.0" fill="#089981"/>
<rect x="1808.1" y="489.0" width="2" height="30.0" fill="#089981"/>
<rect x="1805.1" y="500.0" width="8" height="18.0" fill="#089981"/>
<rect x="1818.2" y="490.0" width="2" height="34.0" fill="#f23645"/>
<rect x="1815.2" y="500.0" width="8" height="7.0" fill="#f23645"/>
<rect x="1828.4" y="505.0" width="2" height="30.0" fill="#f23645"/>
<rect x="1825.4" y="506.0" width="8" height="19.0" fill="#f23645"/>
<rect x="1838.6" y="519.0" width="2" height="16.0" fill="#089981"/>
<rect x="1835.6" y="523.0" width="8" height="2.0" fill="#089981"/>
<rect x="1848.7" y="469.0" width="2" height="71.0" fill="#089981"/>
<rect x="1845.7" y="501.0" width="8" height="24.0" fill="#089981"/>
<rect x="1858.9" y="489.0" width="2" height="19.0" fill="#089981"/>
<rect x="1855.9" y="497.0" width="8" height="5.0" fill="#089981"/>
<rect x="1869.0" y="492.0" width="2" height="13.0" fill="#f23645"/>
<rect x="1866.0" y="498.0" width="8" height="5.0" fill="#f23645"/>
</g>
<text x="18" y="41" font-size="25" fill="#131722">Gold US Dollars per Ounce Spot Prices, 4h</text>
<text x="513" y="41" font-size="25" fill="#131722">O</text>
<text x="532" y="41" font-size="25" fill="#f23645" textLength="101" lengthAdjust="spacing">4,564.45</text>
<text x="647.5" y="41" font-size="25" fill="#131722">H</text>
<text x="665" y="41" font-size="25" fill="#f23645" textLength="98" lengthAdjust="spacing">4,575.35</text>
<text x="779" y="41" font-size="25" fill="#131722">L</text>
<text x="793" y="41" font-size="25" fill="#f23645" textLength="99" lengthAdjust="spacing">4,550.34</text>
<text x="907" y="41" font-size="25" fill="#131722">C</text>
<text x="925" y="41" font-size="25" fill="#f23645" textLength="100" lengthAdjust="spacing">4,555.26</text>
<text x="1040" y="41" font-size="25" fill="#f23645" textLength="168" lengthAdjust="spacing">-9.39 (−0.21%)</text>
<g clip-path="url(#cRsi)">
<rect x="2" y="833" width="2111" height="100" fill="#7e57c2" fill-opacity="0.1"/>
<line x1="1.2" y1="833.2" x2="2113" y2="833.2" stroke="#6f7380" stroke-width="2" stroke-dasharray="10 12"/>
<line x1="1.2" y1="883.0" x2="2113" y2="883.0" stroke="#6f7380" stroke-width="2" stroke-dasharray="10 12"/>
<line x1="1.2" y1="933.0" x2="2113" y2="933.0" stroke="#6f7380" stroke-width="2" stroke-dasharray="10 12"/>
<polyline points="1.4,919.1 10.8,924.8 21.3,897.8 30.7,894.1 41.2,899.3 50.5,870.3 61.0,876.0 70.4,878.0 80.9,876.0 92.3,866.9 102.8,876.5 112.7,867.2 123.0,877.1 132.6,877.1 142.5,877.1 153.3,870.0 162.7,865.7 172.3,856.6 182.6,845.3 193.0,840.2 203.0,824.5 215.0,824.5 225.2,840.5 234.8,837.3 245.0,826.8 255.5,822.6 264.9,819.1 274.8,851.0 284.8,849.0 295.3,852.4 304.7,861.8 314.3,860.9 324.5,864.3 334.5,853.0 345.0,852.1 356.3,853.8 366.8,848.7 376.8,845.3 386.7,868.9 396.6,858.1 407.4,861.8 416.8,872.3 427.3,863.8 437.2,863.5 447.2,864.6 457.1,865.2 468.5,870.0 479.0,865.2 488.9,842.4 498.9,838.8 508.8,834.8 519.0,807.5 528.7,819.1 538.9,812.6 548.8,824.5 558.8,855.8 568.7,852.4 579.2,848.1 589.2,843.9 601.1,860.3 610.5,910.1 621.0,918.6 630.8,913.5 640.4,909.8 650.7,895.0 661.2,897.0 670.5,890.2 681.0,899.8 691.0,902.7 700.9,894.1 710.9,889.9 722.8,894.4 733.0,893.9 742.9,910.1 752.9,917.7 762.8,910.1 773.3,895.0 782.7,897.8 792.6,908.6 802.6,887.9 813.1,883.1 823.0,884.5 833.0,904.4 842.9,899.8 854.8,897.6 864.7,900.1 874.7,895.9 884.6,882.2 894.6,882.2 904.8,875.7 914.7,868.6 924.7,870.9 934.6,855.2 944.5,866.9 955.0,867.7 965.0,865.7 976.3,868.9 986.3,875.1 996.8,881.6 1006.7,875.1 1016.6,894.4 1026.6,886.5 1036.5,875.4 1046.7,877.1 1056.7,895.0 1066.6,910.1 1076.6,904.1 1086.5,896.7 1097.0,906.4 1108.4,897.0 1118.3,917.2 1128.8,922.0 1138.7,920.6 1148.7,925.7 1158.6,915.7 1168.6,922.0 1178.5,921.1 1188.7,924.0 1198.6,909.8 1209.1,909.8 1219.7,902.1 1229.9,904.4 1239.8,911.2 1249.8,913.5 1260.8,912.0 1270.4,910.1 1280.7,915.5 1291.2,912.6 1300.5,936.2 1311.0,951.8 1321.0,955.2 1330.9,956.6 1340.9,947.0 1351.0,968.0 1361.0,972.0 1371.0,970.0 1382.0,956.0 1392.8,955.5 1402.8,922.6 1412.7,926.3 1422.6,931.9 1433.1,948.4 1443.1,953.2 1453.0,954.7 1465.0,958.4 1474.0,975.0 1484.0,985.0 1488.0,959.0 1494.7,929.7 1504.7,931.4 1514.9,923.4 1524.8,914.0 1534.8,924.8 1545.3,910.1 1555.2,911.5 1565.2,910.6 1575.1,912.6 1585.0,882.8 1595.0,878.8 1604.9,884.5 1616.8,877.4 1626.8,881.6 1636.7,886.5 1646.6,893.0 1656.9,888.8 1666.8,900.7 1676.8,905.8 1686.7,902.1 1697.2,914.9 1707.1,904.4 1717.1,896.4 1727.0,894.1 1738.9,899.8 1748.9,876.0 1758.8,878.5 1768.7,883.1 1778.7,892.7 1788.6,882.2 1798.6,875.1 1808.8,868.0 1818.7,870.9 1829.2,880.0 1839.2,880.0 1849.7,869.4 1859.0,868.0 1871.2,870.9" fill="none" stroke="#9e4fc4" stroke-width="2.2" stroke-linejoin="round"/>
</g>
<text x="17.6" y="818" font-size="24" fill="#131722" textLength="86" lengthAdjust="spacing">RSI (14)</text>
<text x="120" y="818" font-size="24" fill="#9e4fc4" textLength="65" lengthAdjust="spacing">54.88</text>
<g clip-path="url(#cMacd)">
<rect x="-3.2" y="1038.3" width="8" height="14.7" fill="#ff5252"/>
<rect x="6.9" y="1038.3" width="8" height="15.5" fill="#ff5252"/>
<rect x="17.1" y="1038.3" width="8" height="11.2" fill="#fccbcd"/>
<rect x="27.3" y="1038.3" width="8" height="7.5" fill="#fccbcd"/>
<rect x="37.4" y="1038.3" width="8" height="6.1" fill="#fccbcd"/>
<rect x="47.6" y="1037.3" width="8" height="2.2" fill="#22ab94"/>
<rect x="57.7" y="1034.5" width="8" height="5.0" fill="#22ab94"/>
<rect x="67.9" y="1033.6" width="8" height="5.9" fill="#22ab94"/>
<rect x="78.0" y="1032.2" width="8" height="7.3" fill="#22ab94"/>
<rect x="88.2" y="1030.2" width="8" height="9.3" fill="#22ab94"/>
<rect x="98.4" y="1030.2" width="8" height="9.3" fill="#ace5dc"/>
<rect x="108.5" y="1029.4" width="8" height="10.1" fill="#22ab94"/>
<rect x="118.7" y="1031.1" width="8" height="8.4" fill="#ace5dc"/>
<rect x="128.8" y="1032.5" width="8" height="7.0" fill="#ace5dc"/>
<rect x="139.0" y="1034.0" width="8" height="5.5" fill="#ace5dc"/>
<rect x="149.2" y="1033.0" width="8" height="6.5" fill="#22ab94"/>
<rect x="159.3" y="1031.7" width="8" height="7.8" fill="#22ab94"/>
<rect x="169.5" y="1031.1" width="8" height="8.4" fill="#22ab94"/>
<rect x="179.6" y="1029.4" width="8" height="10.1" fill="#22ab94"/>
<rect x="189.8" y="1027.4" width="8" height="12.1" fill="#22ab94"/>
<rect x="200.0" y="1023.1" width="8" height="16.4" fill="#22ab94"/>
<rect x="210.1" y="1021.1" width="8" height="18.4" fill="#22ab94"/>
<rect x="220.3" y="1022.3" width="8" height="17.2" fill="#ace5dc"/>
<rect x="230.4" y="1024.0" width="8" height="15.5" fill="#ace5dc"/>
<rect x="240.6" y="1023.1" width="8" height="16.4" fill="#22ab94"/>
<rect x="250.8" y="1022.6" width="8" height="16.9" fill="#22ab94"/>
<rect x="260.9" y="1022.3" width="8" height="17.2" fill="#22ab94"/>
<rect x="271.1" y="1027.4" width="8" height="12.1" fill="#ace5dc"/>
<rect x="281.2" y="1031.1" width="8" height="8.4" fill="#ace5dc"/>
<rect x="291.4" y="1034.2" width="8" height="5.3" fill="#ace5dc"/>
<rect x="301.5" y="1037.5" width="8" height="2.0" fill="#ace5dc"/>
<rect x="311.7" y="1038.3" width="8" height="3.5" fill="#ff5252"/>
<rect x="321.9" y="1038.3" width="8" height="6.5" fill="#ff5252"/>
<rect x="332.0" y="1038.3" width="8" height="6.5" fill="#fccbcd"/>
<rect x="342.2" y="1038.3" width="8" height="5.5" fill="#fccbcd"/>
<rect x="352.3" y="1038.3" width="8" height="6.5" fill="#ff5252"/>
<rect x="362.5" y="1038.3" width="8" height="5.5" fill="#fccbcd"/>
<rect x="372.7" y="1038.3" width="8" height="4.5" fill="#fccbcd"/>
<rect x="382.8" y="1038.3" width="8" height="7.5" fill="#ff5252"/>
<rect x="393.0" y="1038.3" width="8" height="6.5" fill="#fccbcd"/>
<rect x="403.1" y="1038.3" width="8" height="7.5" fill="#ff5252"/>
<rect x="413.3" y="1038.3" width="8" height="8.5" fill="#ff5252"/>
<rect x="423.5" y="1038.3" width="8" height="8.5" fill="#fccbcd"/>
<rect x="433.6" y="1038.3" width="8" height="7.5" fill="#fccbcd"/>
<rect x="443.8" y="1038.3" width="8" height="7.5" fill="#fccbcd"/>
<rect x="453.9" y="1038.3" width="8" height="7.5" fill="#fccbcd"/>
<rect x="464.1" y="1038.3" width="8" height="8.5" fill="#ff5252"/>
<rect x="474.2" y="1038.3" width="8" height="7.4" fill="#fccbcd"/>
<rect x="484.4" y="1038.3" width="8" height="4.5" fill="#fccbcd"/>
<rect x="494.6" y="1037.5" width="8" height="2.0" fill="#22ab94"/>
<rect x="504.7" y="1037.0" width="8" height="2.5" fill="#22ab94"/>
<rect x="514.9" y="1029.0" width="8" height="10.5" fill="#22ab94"/>
<rect x="525.0" y="1026.0" width="8" height="13.5" fill="#22ab94"/>
<rect x="535.2" y="1022.0" width="8" height="17.5" fill="#22ab94"/>
<rect x="545.4" y="1023.0" width="8" height="16.5" fill="#ace5dc"/>
<rect x="555.5" y="1028.1" width="8" height="11.4" fill="#ace5dc"/>
<rect x="565.7" y="1032.0" width="8" height="7.5" fill="#ace5dc"/>
<rect x="575.8" y="1034.0" width="8" height="5.5" fill="#ace5dc"/>
<rect x="586.0" y="1035.0" width="8" height="4.5" fill="#ace5dc"/>
<rect x="596.2" y="1037.5" width="8" height="2.0" fill="#ace5dc"/>
<rect x="606.3" y="1038.3" width="8" height="14.5" fill="#ff5252"/>
<rect x="616.5" y="1038.3" width="8" height="24.4" fill="#ff5252"/>
<rect x="626.6" y="1038.3" width="8" height="29.6" fill="#ff5252"/>
<rect x="636.8" y="1038.3" width="8" height="31.6" fill="#ff5252"/>
<rect x="647.0" y="1038.3" width="8" height="27.3" fill="#fccbcd"/>
<rect x="657.1" y="1038.3" width="8" height="24.4" fill="#fccbcd"/>
<rect x="667.3" y="1038.3" width="8" height="20.5" fill="#fccbcd"/>
<rect x="677.4" y="1038.3" width="8" height="19.4" fill="#fccbcd"/>
<rect x="687.6" y="1038.3" width="8" height="17.5" fill="#fccbcd"/>
<rect x="697.7" y="1038.3" width="8" height="15.4" fill="#fccbcd"/>
<rect x="707.9" y="1038.3" width="8" height="11.3" fill="#fccbcd"/>
<rect x="718.1" y="1038.3" width="8" height="9.0" fill="#fccbcd"/>
<rect x="728.2" y="1038.3" width="8" height="8.1" fill="#fccbcd"/>
<rect x="738.4" y="1038.3" width="8" height="10.4" fill="#ff5252"/>
<rect x="748.5" y="1038.3" width="8" height="13.2" fill="#ff5252"/>
<rect x="758.7" y="1038.3" width="8" height="13.2" fill="#fccbcd"/>
<rect x="768.9" y="1038.3" width="8" height="9.5" fill="#fccbcd"/>
<rect x="779.0" y="1038.3" width="8" height="7.0" fill="#fccbcd"/>
<rect x="789.2" y="1038.3" width="8" height="8.1" fill="#ff5252"/>
<rect x="799.3" y="1038.3" width="8" height="4.1" fill="#fccbcd"/>
<rect x="809.5" y="1037.5" width="8" height="2.0" fill="#22ab94"/>
<rect x="819.7" y="1035.9" width="8" height="3.6" fill="#22ab94"/>
<rect x="829.8" y="1037.5" width="8" height="2.0" fill="#ace5dc"/>
<rect x="840.0" y="1038.3" width="8" height="2.4" fill="#ff5252"/>
<rect x="850.1" y="1038.3" width="8" height="2.4" fill="#fccbcd"/>
<rect x="860.3" y="1038.3" width="8" height="2.4" fill="#ff5252"/>
<rect x="870.4" y="1037.5" width="8" height="2.0" fill="#22ab94"/>
<rect x="880.6" y="1035.9" width="8" height="3.6" fill="#22ab94"/>
<rect x="890.8" y="1033.9" width="8" height="5.6" fill="#22ab94"/>
<rect x="900.9" y="1031.6" width="8" height="7.9" fill="#22ab94"/>
<rect x="911.1" y="1029.7" width="8" height="9.8" fill="#22ab94"/>
<rect x="921.2" y="1028.8" width="8" height="10.7" fill="#22ab94"/>
<rect x="931.4" y="1026.0" width="8" height="13.5" fill="#22ab94"/>
<rect x="941.6" y="1026.0" width="8" height="13.5" fill="#ace5dc"/>
<rect x="951.7" y="1027.4" width="8" height="12.1" fill="#ace5dc"/>
<rect x="961.9" y="1028.8" width="8" height="10.7" fill="#ace5dc"/>
<rect x="972.0" y="1029.4" width="8" height="10.1" fill="#ace5dc"/>
<rect x="982.2" y="1031.6" width="8" height="7.9" fill="#ace5dc"/>
<rect x="992.4" y="1034.5" width="8" height="5.0" fill="#ace5dc"/>
<rect x="1002.5" y="1035.3" width="8" height="4.2" fill="#ace5dc"/>
<rect x="1012.7" y="1037.5" width="8" height="2.0" fill="#ace5dc"/>
<rect x="1022.8" y="1038.3" width="8" height="3.3" fill="#ff5252"/>
<rect x="1033.0" y="1038.3" width="8" height="2.4" fill="#fccbcd"/>
<rect x="1043.2" y="1037.5" width="8" height="2.0" fill="#22ab94"/>
<rect x="1053.3" y="1038.3" width="8" height="4.1" fill="#ff5252"/>
<rect x="1063.5" y="1038.3" width="8" height="8.1" fill="#ff5252"/>
<rect x="1073.6" y="1038.3" width="8" height="10.4" fill="#ff5252"/>
<rect x="1083.8" y="1038.3" width="8" height="8.1" fill="#fccbcd"/>
<rect x="1093.9" y="1038.3" width="8" height="10.4" fill="#ff5252"/>
<rect x="1104.1" y="1038.3" width="8" height="9.0" fill="#fccbcd"/>
<rect x="1114.3" y="1038.3" width="8" height="12.4" fill="#ff5252"/>
<rect x="1124.4" y="1038.3" width="8" height="15.5" fill="#ff5252"/>
<rect x="1134.6" y="1038.3" width="8" height="15.5" fill="#ff5252"/>
<rect x="1144.7" y="1038.3" width="8" height="16.6" fill="#ff5252"/>
<rect x="1154.9" y="1038.3" width="8" height="14.1" fill="#fccbcd"/>
<rect x="1165.1" y="1038.3" width="8" height="13.2" fill="#fccbcd"/>
<rect x="1175.2" y="1038.3" width="8" height="11.8" fill="#fccbcd"/>
<rect x="1185.4" y="1038.3" width="8" height="10.9" fill="#fccbcd"/>
<rect x="1195.5" y="1038.3" width="8" height="8.1" fill="#fccbcd"/>
<rect x="1205.7" y="1038.3" width="8" height="6.1" fill="#fccbcd"/>
<rect x="1215.9" y="1038.3" width="8" height="3.3" fill="#fccbcd"/>
<rect x="1226.0" y="1037.5" width="8" height="2.0" fill="#22ab94"/>
<rect x="1236.2" y="1037.5" width="8" height="2.0" fill="#22ab94"/>
<rect x="1246.3" y="1037.5" width="8" height="2.0" fill="#22ab94"/>
<rect x="1256.5" y="1037.5" width="8" height="2.0" fill="#22ab94"/>
<rect x="1266.7" y="1037.3" width="8" height="2.2" fill="#22ab94"/>
<rect x="1276.8" y="1037.3" width="8" height="2.2" fill="#ace5dc"/>
<rect x="1287.0" y="1037.3" width="8" height="2.2" fill="#22ab94"/>
<rect x="1297.1" y="1038.3" width="8" height="2.4" fill="#ff5252"/>
<rect x="1307.3" y="1038.3" width="8" height="8.1" fill="#ff5252"/>
<rect x="1317.4" y="1038.3" width="8" height="12.4" fill="#ff5252"/>
<rect x="1327.6" y="1038.3" width="8" height="14.6" fill="#ff5252"/>
<rect x="1337.8" y="1038.3" width="8" height="14.6" fill="#fccbcd"/>
<rect x="1347.9" y="1038.3" width="8" height="19.5" fill="#ff5252"/>
<rect x="1358.1" y="1038.3" width="8" height="26.6" fill="#ff5252"/>
<rect x="1368.2" y="1038.3" width="8" height="32.5" fill="#ff5252"/>
<rect x="1378.4" y="1038.3" width="8" height="30.2" fill="#fccbcd"/>
<rect x="1388.6" y="1038.3" width="8" height="27.4" fill="#fccbcd"/>
<rect x="1398.7" y="1038.3" width="8" height="19.5" fill="#fccbcd"/>
<rect x="1408.9" y="1038.3" width="8" height="13.2" fill="#fccbcd"/>
<rect x="1419.0" y="1038.3" width="8" height="10.4" fill="#fccbcd"/>
<rect x="1429.2" y="1038.3" width="8" height="14.6" fill="#ff5252"/>
<rect x="1439.4" y="1038.3" width="8" height="18.3" fill="#ff5252"/>
<rect x="1449.5" y="1038.3" width="8" height="19.5" fill="#ff5252"/>
<rect x="1459.7" y="1038.3" width="8" height="20.3" fill="#ff5252"/>
<rect x="1469.8" y="1038.3" width="8" height="25.4" fill="#ff5252"/>
<rect x="1480.0" y="1038.3" width="8" height="34.5" fill="#ff5252"/>
<rect x="1490.1" y="1038.3" width="8" height="27.4" fill="#fccbcd"/>
<rect x="1500.3" y="1038.3" width="8" height="22.3" fill="#fccbcd"/>
<rect x="1510.5" y="1038.3" width="8" height="14.6" fill="#fccbcd"/>
<rect x="1520.6" y="1038.3" width="8" height="5.3" fill="#fccbcd"/>
<rect x="1530.8" y="1038.3" width="8" height="3.3" fill="#fccbcd"/>
<rect x="1540.9" y="1035.3" width="8" height="4.2" fill="#22ab94"/>
<rect x="1551.1" y="1030.2" width="8" height="9.3" fill="#22ab94"/>
<rect x="1561.3" y="1027.4" width="8" height="12.1" fill="#22ab94"/>
<rect x="1571.4" y="1025.1" width="8" height="14.4" fill="#22ab94"/>
<rect x="1581.6" y="1015.2" width="8" height="24.3" fill="#22ab94"/>
<rect x="1591.7" y="1007.0" width="8" height="32.5" fill="#22ab94"/>
<rect x="1601.9" y="1005.2" width="8" height="34.3" fill="#22ab94"/>
<rect x="1612.1" y="1003.3" width="8" height="36.2" fill="#22ab94"/>
<rect x="1622.2" y="1003.3" width="8" height="36.2" fill="#ace5dc"/>
<rect x="1632.4" y="1006.1" width="8" height="33.4" fill="#ace5dc"/>
<rect x="1642.5" y="1011.2" width="8" height="28.3" fill="#ace5dc"/>
<rect x="1652.7" y="1014.0" width="8" height="25.5" fill="#ace5dc"/>
<rect x="1662.9" y="1021.1" width="8" height="18.4" fill="#ace5dc"/>
<rect x="1673.0" y="1026.8" width="8" height="12.7" fill="#ace5dc"/>
<rect x="1683.2" y="1030.2" width="8" height="9.3" fill="#ace5dc"/>
<rect x="1693.3" y="1037.3" width="8" height="2.2" fill="#ace5dc"/>
<rect x="1703.5" y="1037.5" width="8" height="2.0" fill="#ace5dc"/>
<rect x="1713.6" y="1037.3" width="8" height="2.2" fill="#22ab94"/>
<rect x="1723.8" y="1035.3" width="8" height="4.2" fill="#22ab94"/>
<rect x="1734.0" y="1036.5" width="8" height="3.0" fill="#ace5dc"/>
<rect x="1744.1" y="1030.2" width="8" height="9.3" fill="#22ab94"/>
<rect x="1754.3" y="1027.4" width="8" height="12.1" fill="#22ab94"/>
<rect x="1764.4" y="1026.0" width="8" height="13.5" fill="#22ab94"/>
<rect x="1774.6" y="1029.4" width="8" height="10.1" fill="#ace5dc"/>
<rect x="1784.8" y="1028.2" width="8" height="11.3" fill="#22ab94"/>
<rect x="1794.9" y="1026.0" width="8" height="13.5" fill="#22ab94"/>
<rect x="1805.1" y="1024.0" width="8" height="15.5" fill="#22ab94"/>
<rect x="1815.2" y="1024.0" width="8" height="15.5" fill="#22ab94"/>
<rect x="1825.4" y="1026.0" width="8" height="13.5" fill="#ace5dc"/>
<rect x="1835.6" y="1028.2" width="8" height="11.3" fill="#ace5dc"/>
<rect x="1845.7" y="1028.2" width="8" height="11.3" fill="#22ab94"/>
<rect x="1855.9" y="1027.4" width="8" height="12.1" fill="#22ab94"/>
<rect x="1866.0" y="1028.2" width="8" height="11.3" fill="#ace5dc"/>
<polyline points="1.4,1063.4 10.8,1068.5 21.3,1067.1 30.7,1065.1 41.2,1064.3 51.1,1057.2 61.0,1052.4 71.0,1049.2 80.9,1045.8 90.9,1042.4 100.8,1039.3 110.7,1037.3 120.7,1035.9 130.6,1035.3 142.0,1034.5 153.3,1033.6 163.3,1031.6 173.2,1028.2 183.1,1023.1 193.1,1018.0 203.0,1009.5 214.9,1002.7 225.2,999.6 235.7,996.7 245.6,991.3 255.5,985.7 265.5,983.4 275.4,984.2 285.3,985.7 296.7,989.1 306.6,994.7 316.6,999.0 326.5,1000.4 336.5,1001.3 346.4,1001.8 357.2,1002.7 366.8,1002.7 376.8,1003.3 386.7,1006.1 396.6,1007.5 408.0,1009.8 418.8,1012.6 428.7,1013.8 438.7,1015.2 448.6,1016.9 458.5,1018.3 468.5,1019.7 478.4,1020.9 488.4,1018.0 498.3,1014.6 508.2,1012.3 519.6,1001.3 529.5,993.3 539.5,986.8 549.4,983.4 559.3,985.7 569.3,987.1 579.2,988.2 589.2,988.2 601.4,991.3 610.5,1007.5 620.4,1024.5 630.3,1035.9 640.0,1045.3 651.3,1048.7 661.2,1050.7 671.2,1051.5 681.1,1054.3 691.0,1056.6 701.0,1057.2 712.3,1056.3 722.3,1056.6 732.2,1056.6 742.2,1061.4 752.7,1066.6 762.6,1069.1 772.5,1067.7 782.5,1066.6 792.4,1069.1 803.2,1065.7 813.1,1061.4 823.1,1058.6 833.0,1061.4 843.0,1062.3 854.3,1062.3 864.2,1062.9 874.2,1062.3 884.1,1058.6 894.0,1055.8 904.0,1052.1 914.8,1047.3 925.3,1043.6 935.2,1036.5 945.2,1033.1 955.7,1031.1 965.9,1029.4 975.8,1028.2 985.8,1028.2 996.3,1030.2 1006.2,1030.2 1016.1,1033.1 1026.6,1036.5 1036.6,1035.9 1046.8,1035.3 1056.8,1039.6 1067.2,1044.4 1077.2,1047.3 1087.1,1048.7 1097.1,1051.5 1108.4,1052.9 1117.8,1059.2 1128.3,1064.3 1138.2,1068.5 1148.7,1072.2 1158.7,1073.6 1169.5,1075.6 1188.5,1079.0 1207.8,1076.5 1227.7,1072.8 1247.5,1071.4 1260.0,1070.0 1270.0,1068.5 1279.9,1068.0 1289.8,1067.1 1299.8,1070.0 1309.7,1077.0 1319.6,1084.2 1329.6,1089.8 1340.9,1092.7 1350.9,1102.6 1362.2,1114.5 1373.0,1128.1 1382.9,1134.4 1392.9,1138.1 1402.8,1133.3 1413.3,1130.4 1422.7,1129.6 1433.2,1136.1 1441.7,1142.3 1460.0,1160.0 1500.0,1175.0 1550.0,1170.0 1572.3,1142.3 1583.7,1125.3 1595.0,1109.7 1606.4,1098.3 1617.7,1087.8 1627.7,1079.3 1637.6,1073.6 1647.6,1072.0 1657.5,1069.1 1667.4,1071.4 1677.4,1073.6 1687.3,1074.8 1697.3,1079.9 1707.2,1081.3 1717.1,1079.3 1727.1,1076.5 1739.3,1075.6 1748.9,1068.5 1759.7,1061.4 1769.7,1057.8 1779.6,1058.0 1789.5,1054.3 1799.5,1048.7 1809.4,1043.0 1818.8,1039.3 1829.3,1038.2 1839.2,1037.3 1849.2,1033.1 1859.1,1030.2 1870.4,1028.8" fill="none" stroke="#2196f3" stroke-width="2.2" stroke-linejoin="round"/>
<polyline points="1.4,1052.9 21.3,1057.2 41.2,1060.0 51.1,1060.0 71.0,1058.0 90.9,1054.9 110.7,1050.7 130.6,1046.4 153.3,1042.1 173.2,1037.3 193.1,1030.2 213.0,1021.7 232.8,1013.8 252.7,1006.1 272.6,998.1 295.3,993.9 315.2,995.6 336.5,997.0 356.3,998.1 377.6,999.8 397.5,1002.7 417.4,1005.5 437.2,1008.9 457.1,1011.8 477.0,1014.0 496.9,1014.6 516.8,1011.8 536.6,1006.1 556.5,999.0 576.4,994.2 596.3,991.9 602.0,991.9 616.1,1001.8 630.0,1006.7 651.3,1022.6 671.2,1033.1 691.0,1041.6 712.3,1047.3 732.2,1050.9 752.1,1055.8 772.0,1060.0 791.8,1062.9 811.7,1063.4 831.6,1062.3 854.3,1062.3 874.2,1062.3 894.0,1060.9 913.9,1057.2 933.8,1050.9 953.7,1044.4 973.6,1038.7 993.4,1035.0 1013.3,1033.9 1033.2,1033.9 1053.1,1035.0 1073.0,1037.9 1092.8,1041.6 1112.7,1045.8 1132.6,1051.5 1152.4,1058.6 1172.3,1065.1 1192.2,1070.0 1212.1,1071.4 1231.9,1071.4 1251.8,1070.8 1260.0,1070.8 1279.9,1070.0 1299.8,1069.4 1319.6,1074.2 1340.9,1079.9 1362.2,1090.7 1382.1,1104.0 1392.0,1111.1 1403.4,1116.8 1423.3,1122.5 1443.1,1131.0 1464.4,1140.9 1480.0,1150.0 1530.0,1165.0 1593.6,1142.3 1614.9,1125.3 1634.8,1108.3 1656.1,1094.1 1676.0,1087.0 1687.3,1084.2 1707.2,1082.7 1727.1,1080.7 1748.4,1078.5 1768.2,1072.8 1788.1,1067.1 1808.0,1059.5 1827.9,1052.1 1849.2,1045.8 1870.4,1039.3" fill="none" stroke="#ff6d00" stroke-width="2.2" stroke-linejoin="round"/>
</g>
<text x="18.5" y="1001" font-size="24" fill="#131722" textLength="263" lengthAdjust="spacing">MACD (12, 26, close, 9)</text>
<text x="300" y="1001" font-size="24" fill="#ace5dc" textLength="59" lengthAdjust="spacing">12.39</text>
<text x="374" y="1001" font-size="24" fill="#2196f3" textLength="60" lengthAdjust="spacing">12.03</text>
<text x="449.5" y="1001" font-size="24" fill="#ff6d00" textLength="58" lengthAdjust="spacing">-0.37</text>
<rect x="0" y="775" width="2254" height="2" fill="#e0e3eb"/>
<rect x="0" y="959" width="2254" height="2" fill="#e0e3eb"/>
<text x="2130.8" y="69.9" font-size="24.5" fill="#131722" textLength="101.5" lengthAdjust="spacing">5,400.00</text>
<text x="2130.8" y="174.0" font-size="24.5" fill="#131722" textLength="101.5" lengthAdjust="spacing">5,200.00</text>
<text x="2130.8" y="278.0" font-size="24.5" fill="#131722" textLength="101.5" lengthAdjust="spacing">5,000.00</text>
<text x="2130.8" y="382.1" font-size="24.5" fill="#131722" textLength="101.5" lengthAdjust="spacing">4,800.00</text>
<text x="2130.8" y="486.1" font-size="24.5" fill="#131722" textLength="101.5" lengthAdjust="spacing">4,600.00</text>
<text x="2130.8" y="590.2" font-size="24.5" fill="#131722" textLength="101.5" lengthAdjust="spacing">4,400.00</text>
<text x="2130.8" y="694.3" font-size="24.5" fill="#131722" textLength="101.5" lengthAdjust="spacing">4,200.00</text>
<text x="2130.8" y="828.0" font-size="24.5" fill="#131722" textLength="64.2" lengthAdjust="spacing">75.00</text>
<text x="2130.8" y="890.4" font-size="24.5" fill="#131722" textLength="64.2" lengthAdjust="spacing">50.00</text>
<text x="2130.8" y="952.7" font-size="24.5" fill="#131722" textLength="64.2" lengthAdjust="spacing">25.00</text>
<text x="2129.0" y="1137.6" font-size="24.5" fill="#131722" textLength="93" lengthAdjust="spacing">-100.00</text>
<path d="M2113,232 H2241 Q2245,232 2245,236 V261.8 Q2245,265.8 2241,265.8 H2113 Z" fill="#f23645"/>
<text x="2130.8" y="256.5" font-size="24.5" fill="#fff" textLength="101.5" lengthAdjust="spacing">5,042.20</text>
<path d="M2113,485 H2241 Q2245,485 2245,489 V514.5 Q2245,518.5 2241,518.5 H2113 Z" fill="#f23645"/>
<text x="2130.8" y="509.4" font-size="24.5" fill="#fff" textLength="101.5" lengthAdjust="spacing">4,555.26</text>
<path d="M2113,590 H2241 Q2245,590 2245,594 V619.5 Q2245,623.5 2241,623.5 H2113 Z" fill="#089981"/>
<text x="2130.8" y="614.4" font-size="24.5" fill="#fff" textLength="101.5" lengthAdjust="spacing">4,353.98</text>
<path d="M2113,718.5 H2241 Q2245,718.5 2245,722.5 V747.8 Q2245,751.8 2241,751.8 H2113 Z" fill="#089981"/>
<text x="2130.8" y="742.8" font-size="24.5" fill="#fff" textLength="101.5" lengthAdjust="spacing">4,107.80</text>
<clipPath id="cAx"><rect x="2113" y="700" width="141" height="75"/></clipPath>
<g clip-path="url(#cAx)">
<path d="M2113,753 H2241 Q2245,753 2245,757 V782.5 Q2245,786.5 2241,786.5 H2113 Z" fill="#089981"/>
<text x="2130.8" y="777.4" font-size="24.5" fill="#fff" textLength="101.5" lengthAdjust="spacing">4,102.42</text>
</g>
<path d="M2113,854 H2203 Q2207,854 2207,858 V883.5 Q2207,887.5 2203,887.5 H2113 Z" fill="#9e4fc4"/>
<text x="2130.8" y="878.4" font-size="24.5" fill="#fff" textLength="64.2" lengthAdjust="spacing">54.88</text>
<path d="M2113,1011 H2203 Q2207,1011 2207,1015 V1040 Q2207,1044 2203,1044 H2113 Z" fill="#ace5dc"/>
<text x="2130.8" y="1035.1" font-size="24.5" fill="#131722" textLength="64.2" lengthAdjust="spacing">12.39</text>
<path d="M2113,1045 H2203 Q2207,1045 2207,1049 V1074.5 Q2207,1078.5 2203,1078.5 H2113 Z" fill="#2196f3"/>
<text x="2130.8" y="1069.3" font-size="24.5" fill="#fff" textLength="64.2" lengthAdjust="spacing">12.03</text>
<path d="M2113,1079.5 H2199 Q2203,1079.5 2203,1083.5 V1108.5 Q2203,1112.5 2199,1112.5 H2113 Z" fill="#ff6d00"/>
<text x="2130.5" y="1103.6" font-size="24.5" fill="#fff" textLength="60.5" lengthAdjust="spacing">-0.37</text>
<text x="21" y="1181" font-size="24.5" fill="#131722" text-anchor="middle" letter-spacing="0.8">18</text>
<text x="204" y="1181" font-size="24.5" fill="#131722" text-anchor="middle" letter-spacing="0.8">22</text>
<text x="519" y="1181" font-size="24.5" fill="#131722" text-anchor="middle" letter-spacing="0.8" font-weight="bold">Mar</text>
<text x="712" y="1181" font-size="24.5" fill="#131722" text-anchor="middle" letter-spacing="0.8">5</text>
<text x="905" y="1181" font-size="24.5" fill="#131722" text-anchor="middle" letter-spacing="0.8">10</text>
<text x="1088" y="1181" font-size="24.5" fill="#131722" text-anchor="middle" letter-spacing="0.8">13</text>
<text x="1281" y="1181" font-size="24.5" fill="#131722" text-anchor="middle" letter-spacing="0.8">18</text>
<text x="1464" y="1181" font-size="24.5" fill="#131722" text-anchor="middle" letter-spacing="0.8">22</text>
<text x="1657" y="1181" font-size="24.5" fill="#131722" text-anchor="middle" letter-spacing="0.8">26</text>
<text x="1911" y="1181" font-size="24.5" fill="#131722" text-anchor="middle" letter-spacing="0.8" font-weight="bold">Apr</text>
<text x="2094" y="1181" font-size="24.5" fill="#131722" text-anchor="middle" letter-spacing="0.8">4</text>
</svg></body></html>
